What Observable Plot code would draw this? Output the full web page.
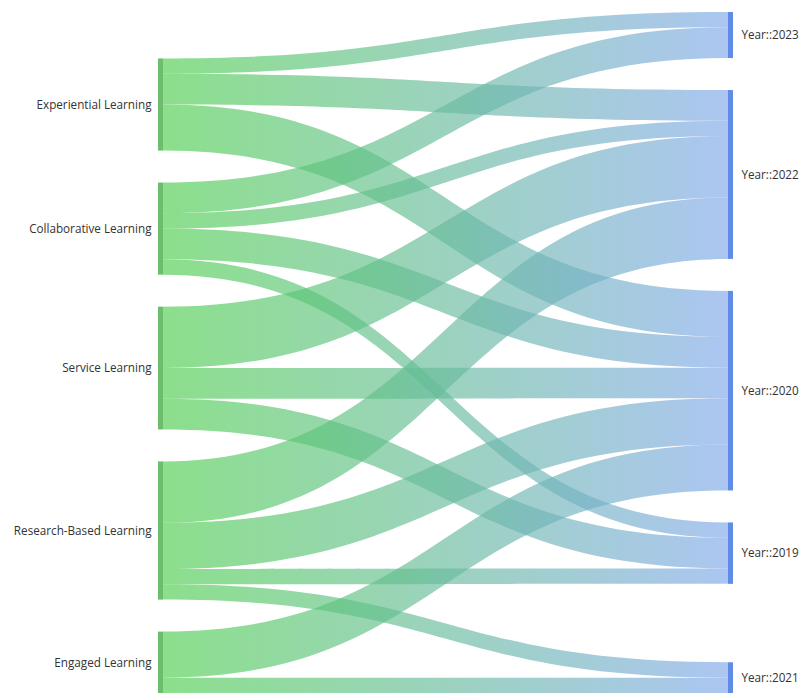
<!DOCTYPE html>
<html>
<head>
<meta charset="utf-8">
<script src="https://cdn.jsdelivr.net/npm/d3@7"></script>
<script src="https://cdn.jsdelivr.net/npm/@observablehq/plot@0.6"></script>
<style>
  html, body { margin: 0; padding: 0; background: #ffffff; }
  #chart svg { display: block; }
</style>
</head>
<body>
<div id="chart"></div>
<script>
// ---- Data ----
const sourceNodes = ["Experiential Learning", "Collaborative Learning", "Service Learning", "Research-Based Learning", "Engaged Learning"];
const targetNodes = ["Year::2023", "Year::2022", "Year::2020", "Year::2019", "Year::2021"];
const linkSource = [
  "Experiential Learning", "Experiential Learning", "Experiential Learning",
  "Collaborative Learning", "Collaborative Learning", "Collaborative Learning", "Collaborative Learning",
  "Service Learning", "Service Learning", "Service Learning",
  "Research-Based Learning", "Research-Based Learning", "Research-Based Learning", "Research-Based Learning",
  "Engaged Learning", "Engaged Learning"
];
const linkTarget = [
  "Year::2023", "Year::2022", "Year::2020",
  "Year::2023", "Year::2022", "Year::2020", "Year::2019",
  "Year::2022", "Year::2020", "Year::2019",
  "Year::2022", "Year::2020", "Year::2019", "Year::2021",
  "Year::2020", "Year::2021"
];
const linkValue = [1, 2, 3, 2, 1, 2, 1, 4, 2, 2, 4, 3, 1, 1, 3, 1];

// ---- Layout (sankey, two columns) ----
const W = 800, H = 693;
const layout = {
  columnX: [158, 728],   // left edge of each node column
  nodeWidth: 5,
  top: 12,
  bottom: 693,
  padding: 32,
  unit: 15.35,           // px per count
  slackBefore: [0, 4]    // where a column's free space is inserted
};

const links = linkSource.map((s, i) => ({id: i, source: s, target: linkTarget[i], value: linkValue[i]}));
const columns = [sourceNodes, targetNodes];
const nodeByName = new Map();
const nodes = [];
columns.forEach((names, c) => {
  const col = names.map((nm, order) => ({
    name: nm, column: c, order,
    value: d3.sum(links.filter(l => (c === 0 ? l.source : l.target) === nm), l => l.value)
  }));
  const content = d3.sum(col, d => d.value * layout.unit) + (col.length - 1) * layout.padding;
  const slack = (layout.bottom - layout.top) - content;
  let y = layout.top;
  col.forEach((n, i) => {
    if (i === layout.slackBefore[c]) y += slack;
    n.y0 = y;
    n.y1 = y + n.value * layout.unit;
    y = n.y1 + layout.padding;
    n.x0 = layout.columnX[c];
    n.x1 = n.x0 + layout.nodeWidth;
    nodeByName.set(n.name, n);
  });
  nodes.push(...col);
});

// link breadths
for (const n of nodes) {
  let ys = n.y0, yt = n.y0;
  const outs = links.filter(l => l.source === n.name)
    .sort((a, b) => nodeByName.get(a.target).order - nodeByName.get(b.target).order);
  for (const l of outs) { l.w = l.value * layout.unit; l.sy0 = ys; ys += l.w; }
  const ins = links.filter(l => l.target === n.name)
    .sort((a, b) => nodeByName.get(a.source).order - nodeByName.get(b.source).order);
  for (const l of ins) { l.ty0 = yt; yt += l.value * layout.unit; }
}

const ribbons = links.flatMap(l => {
  const s = nodeByName.get(l.source), t = nodeByName.get(l.target);
  return [
    {id: l.id, x: s.x1, y1: l.sy0, y2: l.sy0 + l.w},
    {id: l.id, x: t.x0, y1: l.ty0, y2: l.ty0 + l.w}
  ];
});

const leftNodes = nodes.filter(d => d.column === 0);
const rightNodes = nodes.filter(d => d.column === 1);

const svg = Plot.plot({
  width: W,
  height: H,
  margin: 0,
  style: {background: "#ffffff", fontFamily: "'Open Sans', 'Noto Sans', sans-serif", fontSize: "11.7px", overflow: "visible"},
  x: {domain: [0, W], range: [0, W], axis: null},
  y: {domain: [0, H], range: [0, H], axis: null},
  marks: [
    Plot.areaY(ribbons, {x: "x", y1: "y1", y2: "y2", z: "id", curve: "bump-x", fill: "url(#linkGrad)", fillOpacity: 0.66}),
    Plot.rect(leftNodes, {x1: "x0", x2: "x1", y1: "y0", y2: "y1", fill: "#6dbd6d"}),
    Plot.rect(rightNodes, {x1: "x0", x2: "x1", y1: "y0", y2: "y1", fill: "#5e8ce6"}),
    Plot.text(leftNodes, {x: d => d.x0 - 7, y: d => (d.y0 + d.y1) / 2, text: "name", textAnchor: "end", fill: "#333333", fontSize: 11.7}),
    Plot.text(rightNodes, {x: d => d.x1 + 8, y: d => (d.y0 + d.y1) / 2, text: "name", textAnchor: "start", fill: "#333333", fontSize: 11.7})
  ]
});

const defs = d3.select(svg).insert("defs", ":first-child");
const grad = defs.append("linearGradient")
  .attr("id", "linkGrad")
  .attr("gradientUnits", "userSpaceOnUse")
  .attr("x1", layout.columnX[0] + layout.nodeWidth).attr("x2", layout.columnX[1])
  .attr("y1", 0).attr("y2", 0);
grad.append("stop").attr("offset", "0%").attr("stop-color", "rgb(80,206,80)");
grad.append("stop").attr("offset", "100%").attr("stop-color", "rgb(128,168,234)");

document.getElementById("chart").appendChild(svg);
</script>
</body>
</html>
